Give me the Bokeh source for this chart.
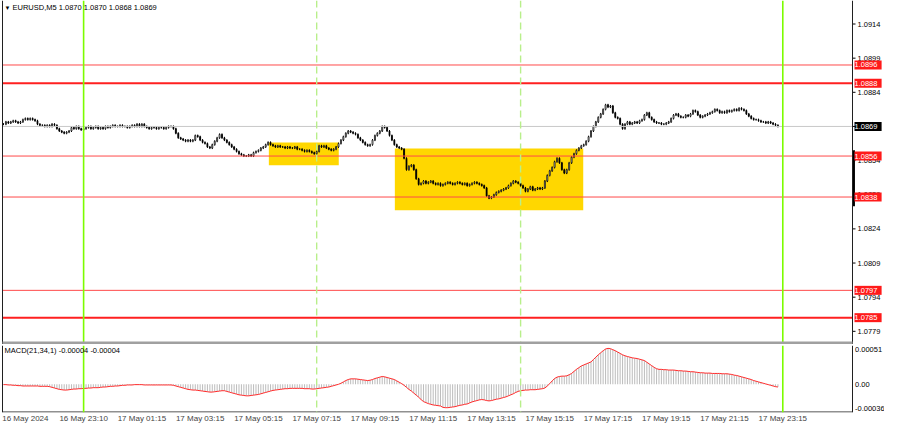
from bokeh.plotting import figure
from bokeh.layouts import column
from bokeh.models import (ColumnDataSource, Span, Label, FixedTicker, Range1d, BoxAnnotation)
from bokeh.core.properties import value
from bokeh.embed import file_html
from bokeh.resources import INLINE

FONT = "Liberation Sans"

symbol_title = "EURUSD,M5  1.0870 1.0870 1.0868 1.0869"
macd_title = "MACD(21,34,1) -0.00004 -0.00004"

# closes in pips above 1.0800, one per M5 bar (16 May 21:10 .. 17 May 23:50)
close_pips = [
    70, 71, 70.5, 71, 71.5, 71, 70.5, 71, 72, 72.5, 72, 72.5, 72, 71.5,
    70, 69.5, 69.5, 69, 69.5, 69, 70, 69.5, 68, 67, 66.5, 66, 66.5, 67,
    68.5, 68, 69, 68, 67.5, 68, 68.5, 69, 68, 68.5, 69, 68, 68.5, 68, 69, 68.5,
    69, 69.5, 69, 69, 69.5, 69, 69, 68.5, 69, 69.5, 69, 70, 69, 70, 69,
    68.5, 68, 68.5, 68.5, 68, 68.5, 68.5, 68, 68.5, 69, 69, 68, 66, 64, 63.5, 63,
    62.5, 63, 62.5, 63, 65, 64.5, 63, 62, 61.5, 60, 59.5, 61, 62.5, 64, 65.5, 64,
    63, 62, 61, 60, 59, 58, 57, 56.5, 56, 56, 56.5, 56, 57.5, 58, 58.5, 59.5, 60, 61,
    62, 61, 60.5, 60, 60.5, 60, 60, 59.5, 60, 59.5, 59.5, 60, 59, 59, 58.5, 58, 58.5, 58,
    57.5, 57, 58, 60.5, 60, 60.5, 59.5, 59, 58.5, 59, 60,
    61.5, 63, 64.5, 66, 67, 66.5, 66, 65.5, 64, 63, 62, 61, 60.5, 61, 63, 65, 66, 67,
    69, 68.5, 67, 65, 63, 61, 60, 59.5, 59,
    55, 50, 51.5, 52, 50, 46, 43.5, 44, 45, 44, 44.5, 45, 44,
    43.5, 44, 43, 43.5, 44, 44.5, 44, 43.5, 44, 44.5, 44, 43.5, 44, 43, 43.5, 44, 44.5,
    44, 43.5, 43, 42,
    38.5, 37.5, 38, 39, 40, 40.5, 41, 41.5, 42, 43, 44, 45, 44.5, 44, 43, 42, 40.5, 41.5,
    42.5, 41, 41.5, 42, 41.5, 42,
    45, 47.5, 49.5, 51, 53.5, 55, 53, 50, 48.5, 50, 53, 55.5, 57, 58.5, 59.5, 60.5, 61,
    62.5, 64.5, 67, 69,
    71, 73, 74.5, 76.5, 78.5, 77.5, 78, 75, 73, 72.5, 70, 68, 70, 71, 70, 70.5, 71, 70.5,
    71.5, 72, 74, 75, 73,
    72, 71, 70.5, 70.5, 70, 70, 70.5, 71, 72.5, 74, 74.5, 73.5, 73, 73, 74, 73.5, 74.5,
    76, 75.5, 74, 73,
    73.5, 74, 74.5, 75, 75.5, 76.5, 76, 75, 75.5, 75, 76, 75.5, 76, 76.5, 76, 77, 76.5, 76,
    74.5, 73.5, 72.5, 72, 72, 71.5, 71, 71, 70.5, 71, 70.5, 70, 69.5, 69,
]

# MACD main value per bar, in units of 0.00001
macd_e5 = [
    -0.5, -0.5, -1, -1, -1.5, -1.5, -2, -2, -2.5, -2.5, -2.5, -2.5, -2.5, -2.5, -2.5,
    -3, -3, -3, -3, -3.5, -4.5, -5.5, -6.5, -7.5, -8, -8.5, -8.5, -8,
    -7.5, -7, -7, -6.5, -6.5, -6, -6, -5.5, -5.5, -5, -5, -5, -4.5, -4, -4, -3.5, -3, -3,
    -2.5, -2.5,
    -2, -1.5, -1.5, -1, -1, -1, -0.5, -0.5, -0.5, -0.5, -1, -1, -1, -1, -1, -1, -1, -1,
    -1, -1, -1, -1,
    -1.5, -2.5, -3.5, -4.5, -5.5, -6.5, -7.5, -8, -8.5, -8.5, -9, -9.5, -10, -10.5, -11,
    -11.5, -11.5, -11, -10.5, -10, -9.5, -9.5,
    -10.5, -11.5, -12.5, -13.5, -14.5, -15.5, -16, -16.5, -17, -17, -16.5, -16, -15.5, -15,
    -14, -13, -12, -11, -10, -9, -8.5,
    -8, -7.5, -7, -6.5, -6.5, -6, -6, -6, -6, -6, -6, -6.5, -6.5, -6.5, -7, -7,
    -6.5, -6, -5.5, -5, -4.5, -4, -3, -2, -1, 0,
    1.5, 3.5, 5.5, 7, 8, 8, 8, 7.5, 7, 6.5, 6, 5.5, 6, 7, 8.5, 9.5, 10.5, 11.5, 11,
    10, 9, 8, 7,
    5, 3, 1, -1.5, -4.5, -7.5, -10, -13, -16, -19, -22.5, -25.5,
    -27, -28.5, -29.5, -30.5, -31, -31.5, -32,
    -34, -34.5, -34.5, -34, -33.5, -33, -32, -31, -30.5, -29.5, -29, -27.5, -26, -25,
    -24, -23, -22.5, -23, -24, -24.5,
    -24, -23, -22, -21.5, -20.5, -19.5, -18.5, -17, -15.5, -14, -12, -10.5, -9.5, -9,
    -8.5, -8.5, -8, -8, -8, -7.5,
    -7, -6.5, -5.5, -2.5, 1, 5, 8.5, 10.5, 11.5, 12, 12, 12.5, 14, 16, 19, 22, 24.5, 27,
    28.5, 30,
    31.5, 33, 36.5, 40, 43.5, 46.5, 49.5, 52, 53, 52.5, 51, 49.5, 47.5, 45.5, 43.5, 42,
    41, 40, 39, 38.5,
    38, 37, 36, 35, 32.5, 30, 27.5, 25, 23, 22, 22, 21.5, 21.5, 21, 21, 21, 20.5, 20, 20,
    19.5,
    19.5, 19, 18.5, 18.5, 18, 17.5, 17, 17, 16.5, 16.5, 16.5, 16, 16, 16, 16, 15.5, 15.5,
    15.5, 15, 14.5,
    13.5, 13, 12, 11, 10, 9, 8, 7, 5.5, 4.5, 3.5, 2.5, 1.5, 0.5, -0.5, -1.5, -2.5, -3.5, -4,
]

time_labels = ["16 May 2024", "16 May 23:10", "17 May 01:15", "17 May 03:15",
               "17 May 05:15", "17 May 07:15", "17 May 09:15", "17 May 11:15",
               "17 May 13:15", "17 May 15:15", "17 May 17:15", "17 May 19:15",
               "17 May 21:15", "17 May 23:15"]
time_label_bars = [0, 24, 48, 72, 96, 120, 144, 168, 192, 216, 240, 264, 288, 312]

price_ticks = [1.0914, 1.0899, 1.0884, 1.0869, 1.0854, 1.0839, 1.0824, 1.0809, 1.0794, 1.0779]
macd_ticks = [0.00051, 0.0, -0.00036]
macd_tick_labels = ["0.00051", "0.00", "-0.00036"]

level_prices = [1.0896, 1.0888, 1.0856, 1.0838, 1.0797, 1.0785]
level_thick = [False, True, False, False, False, True]
current_price = 1.0869

day_sep_bars = [33, 321]     # 17 May 00:00, 18 May 00:00
session_bars = [129, 213]    # 17 May 08:00, 17 May 15:00

zone_start = [109.3, 161.2]
zone_end = [138.1, 238.8]
zone_top = [1.08619, 1.08593]
zone_bottom = [1.08520, 1.08322]

right_marker = [1.08339, 1.08585]

# ---------------------------------------------------------------
n = len(close_pips)
idx = list(range(n))
closes = [1.08 + c / 10000 for c in close_pips]
opens = [closes[0]] + closes[:-1]
tops = [max(o, c) for o, c in zip(opens, closes)]
bots = [min(o, c) for o, c in zip(opens, closes)]
fills = ["white" if c >= o else "black" for o, c in zip(opens, closes)]
macd = [v * 1e-5 for v in macd_e5]

W = 884
BAR_PX = 2.4277               # pixels per bar
x_lo = -3 / BAR_PX            # first bar 3px from the left edge
x_hi = x_lo + W / BAR_PX
x_border = x_lo + 852 / BAR_PX
x_left_border = x_lo + 2 / BAR_PX
shared_x = Range1d(x_lo, x_hi)
AX_FONT = "7.5px"

def px(n_px):
    return n_px / BAR_PX

# main panel vertical scale
H1 = 344
price_px = 0.00004393
y_top = 1.092433
y_bot_content = y_top - 341 * price_px
y_bot = y_bot_content - 3 * price_px
wick = 1.0 * price_px

def style(fig):
    fig.background_fill_color = "white"
    fig.border_fill_color = "white"
    fig.outline_line_color = None
    fig.grid.grid_line_color = None

p = figure(width=W, height=H1, output_backend="svg", toolbar_location=None, tools="",
           x_range=shared_x, y_range=Range1d(y_bot, y_top),
           y_axis_location=None, x_axis_location=None,
           min_border_left=0, min_border_right=0, min_border_top=0, min_border_bottom=0)
style(p)

# zones
p.quad(left=zone_start, right=zone_end, top=zone_top, bottom=zone_bottom,
       fill_color="#ffd700", line_color=None)

# candles
src = ColumnDataSource(dict(x=idx, top=tops, bottom=bots, fill=fills,
                            hi=[t + wick for t in tops], lo=[b - wick for b in bots]))
p.segment(x0="x", x1="x", y0="lo", y1="hi", line_color="black", line_width=1, source=src)
p.vbar(x="x", top="top", bottom="bottom", width=0.42, fill_color="fill",
       line_color="black", line_width=0.7, source=src)

# horizontal levels (stop at the panel border)
p.segment(x0=[x_left_border], x1=[x_border], y0=[current_price], y1=[current_price],
          line_color="#c8c8c8", line_width=1)
for lvl, thick in zip(level_prices, level_thick):
    p.segment(x0=[x_left_border], x1=[x_border], y0=[lvl], y1=[lvl],
              line_color="#ff2020" if thick else "#ff4a4a",
              line_width=2 if thick else 1)

def vlines(fig):
    for b in day_sep_bars:
        fig.add_layout(Span(location=b, dimension="height", line_color="#7cfc00", line_width=1.6))
    for b in session_bars:
        fig.add_layout(Span(location=b, dimension="height", line_color="#b8ef8a",
                            line_width=1.4, line_dash="7 4"))

def borders(fig):
    fig.add_layout(Span(location=x_left_border, dimension="height", line_color="#202020",
                        line_width=1))
    fig.add_layout(Span(location=x_border, dimension="height", line_color="#202020",
                        line_width=1))

vlines(p)
borders(p)

# panel separator band
p.add_layout(BoxAnnotation(top=y_bot_content, left=x_left_border, right=x_border,
                           fill_color="#a0a0a0", fill_alpha=1.0, line_color=None))

p.segment(x0=[x_border + px(1.2)], x1=[x_border + px(1.2)],
          y0=[right_marker[0]], y1=[right_marker[1]], line_color="black", line_width=2.5)

# price scale
k = len(price_ticks)
p.segment(x0=[x_border] * k, x1=[x_border + px(3)] * k,
          y0=price_ticks, y1=price_ticks, line_color="black", line_width=1)
p.text(x=[x_border + px(5)] * k, y=price_ticks,
       text=[f"{t:.4f}" for t in price_ticks], text_font=value(FONT), text_font_size=AX_FONT,
       text_color="black", text_baseline="middle", text_align="left")

for lvl in level_prices:
    p.add_layout(Label(x=x_border, y=lvl, x_offset=2, text=f" {lvl:.4f} ",
                       text_font=FONT, text_font_size=AX_FONT, text_color="white",
                       text_baseline="middle", text_align="left",
                       background_fill_color="#ff1a1a"))
p.add_layout(Label(x=x_border, y=current_price, x_offset=2, text=f" {current_price:.4f} ",
                   text_font=FONT, text_font_size=AX_FONT, text_color="white",
                   text_baseline="middle", text_align="left",
                   background_fill_color="black"))

title_y = y_top - 7 * price_px
p.add_layout(Label(x=x_lo + px(4), y=title_y, text="\u25bc", text_font=FONT,
                   text_font_size="6px", text_color="black", text_baseline="middle",
                   text_align="left"))
p.add_layout(Label(x=x_lo + px(12), y=title_y, text=symbol_title, text_font=FONT,
                   text_font_size="7.5px", text_color="black", text_baseline="middle",
                   text_align="left"))

# ---------------- MACD panel -----------------
m_top, m_bot = 0.000572, -0.000416
q = figure(width=W, height=425 - H1, output_backend="svg", toolbar_location=None, tools="",
           x_range=shared_x, y_range=Range1d(m_bot, m_top),
           y_axis_location=None,
           min_border_left=0, min_border_right=0, min_border_top=1, min_border_bottom=0)
style(q)

label_shift = 9
q.xaxis.ticker = FixedTicker(ticks=[b + label_shift for b in time_label_bars])
q.xaxis.major_label_overrides = {b + label_shift: t for b, t in zip(time_label_bars, time_labels)}
q.xaxis.axis_line_color = None
q.xaxis.major_tick_line_color = None
q.xaxis.minor_tick_line_color = None
q.xaxis.major_tick_out = 0
q.xaxis.major_label_standoff = 1
q.xaxis.major_label_text_font = FONT
q.xaxis.major_label_text_font_size = "8px"

q.vbar(x=idx, top=macd, bottom=0, width=0.42, fill_color="#bdbdbd", line_color=None)
q.line(idx, macd, line_color="#ff2a2a", line_width=1)
vlines(q)
borders(q)
m_px = (m_top - m_bot) / 68.0
q.segment(x0=[x_left_border], x1=[x_border], y0=[m_bot + 0.5 * m_px], y1=[m_bot + 0.5 * m_px],
          line_color="#202020", line_width=1)

q.text(x=[x_border + px(2.5)] * len(macd_ticks), y=macd_ticks, text=macd_tick_labels,
       text_font=value(FONT), text_font_size=AX_FONT, text_color="black",
       text_baseline="middle", text_align="left")

q.add_layout(Label(x=x_lo + px(4), y=m_top - 5 * m_px, text=macd_title, text_font=FONT,
                   text_font_size="7.5px", text_color="black", text_baseline="middle",
                   text_align="left"))

layout = column(p, q, spacing=0)
open("out.html", "w").write(file_html(layout, INLINE))
